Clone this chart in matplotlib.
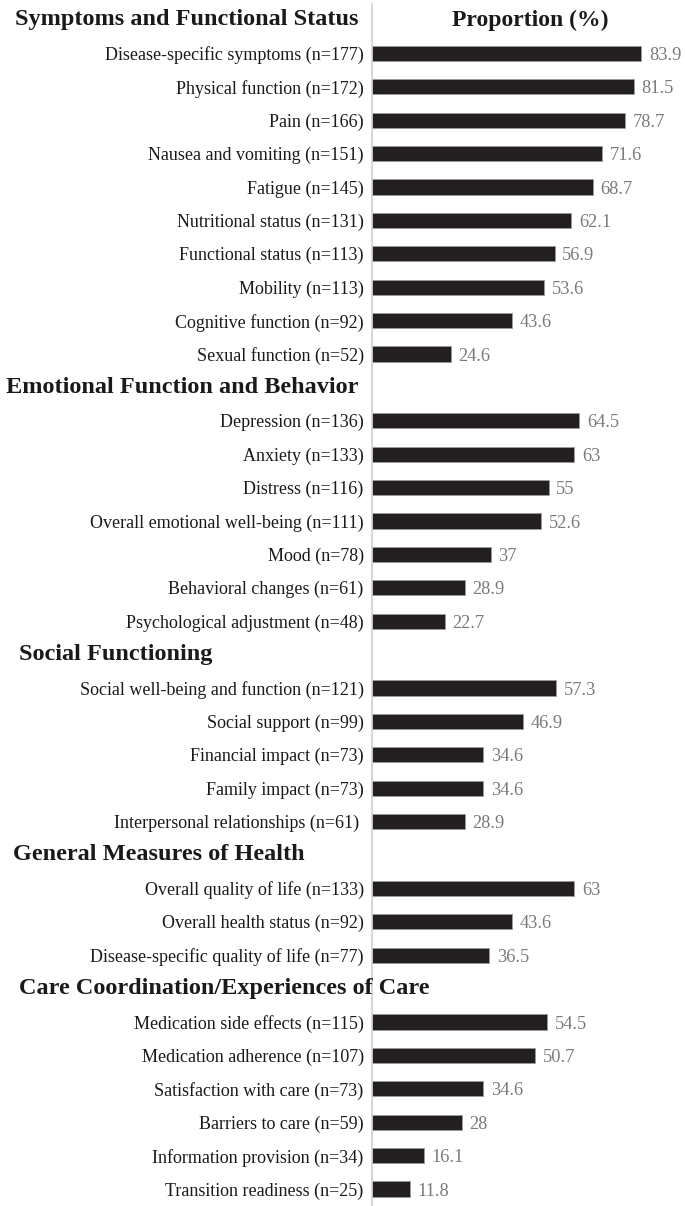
import numpy as np
import matplotlib.pyplot as plt
from matplotlib.transforms import blended_transform_factory

plt.rcParams['font.family'] = ['Liberation Serif', 'DejaVu Serif']

# domains and their items
domains = ["Symptoms and Functional Status",
           "Emotional Function and Behavior",
           "Social Functioning",
           "General Measures of Health",
           "Care Coordination/Experiences of Care"]

symptoms_labels = ["Disease-specific symptoms (n=177)", "Physical function (n=172)", "Pain (n=166)",
                   "Nausea and vomiting (n=151)", "Fatigue (n=145)", "Nutritional status (n=131)",
                   "Functional status (n=113)", "Mobility (n=113)", "Cognitive function (n=92)",
                   "Sexual function (n=52)"]
symptoms_vals = [83.9, 81.5, 78.7, 71.6, 68.7, 62.1, 56.9, 53.6, 43.6, 24.6]

emotional_labels = ["Depression (n=136)", "Anxiety (n=133)", "Distress (n=116)",
                    "Overall emotional well-being (n=111)", "Mood (n=78)",
                    "Behavioral changes (n=61)", "Psychological adjustment (n=48)"]
emotional_vals = [64.5, 63, 55, 52.6, 37, 28.9, 22.7]

social_labels = ["Social well-being and function (n=121)", "Social support (n=99)",
                 "Financial impact (n=73)", "Family impact (n=73)",
                 "Interpersonal relationships (n=61) "]
social_vals = [57.3, 46.9, 34.6, 34.6, 28.9]

general_labels = ["Overall quality of life (n=133)", "Overall health status (n=92)",
                  "Disease-specific quality of life (n=77)"]
general_vals = [63, 43.6, 36.5]

care_labels = ["Medication side effects (n=115)", "Medication adherence (n=107)",
               "Satisfaction with care (n=73)", "Barriers to care (n=59)",
               "Information provision (n=34)", "Transition readiness (n=25)"]
care_vals = [54.5, 50.7, 34.6, 28, 16.1, 11.8]

groups = [(symptoms_labels, symptoms_vals), (emotional_labels, emotional_vals),
          (social_labels, social_vals), (general_labels, general_vals),
          (care_labels, care_vals)]

W, H = 685, 1206
fig = plt.figure(figsize=(W / 100, H / 100), dpi=100)
ax = fig.add_axes([372 / W, 0, 1 - 372 / W, 1 - 4 / H])

row = 0
ypos, labels, vals, header_rows = [], [], [], []
for labs, vs in groups:
    header_rows.append(row)
    row += 1
    for l, v in zip(labs, vs):
        ypos.append(row)
        labels.append(l)
        vals.append(v)
        row += 1

ax.barh(ypos, vals, height=0.45, color='#231f20', edgecolor='#9a9a9a', linewidth=0.6)
for y, v in zip(ypos, vals):
    ax.text(v + 2.4, y + 0.06, f"{v:g}", va='center', ha='left', fontsize=13.2, color='#7a7a7a')

ax.set_yticks(ypos)
ax.set_yticklabels(labels, fontsize=13, color='#1a1a1a')
ax.tick_params(axis='y', length=0, pad=6)
ax.set_xticks([])
ax.set_xlim(0, 97.5)
top_px = 4
ax.set_ylim(35 + (H - 1189) / 33.4, -(20 - top_px) / 33.4)

for s in ['top', 'right', 'bottom']:
    ax.spines[s].set_visible(False)
ax.spines['left'].set_color('#d0d0d0')
ax.spines['left'].set_linewidth(1.2)

# domain headers
hx = [(358, 'right'), (358, 'right'), (19, 'left'), (13, 'left'), (19, 'left')]
tr = blended_transform_factory(fig.transFigure, ax.transData)
for name, r, (px, ha) in zip(domains, header_rows, hx):
    ax.text(px / W, r, name, transform=tr,
            ha=ha, va='center', fontsize=17.5, fontweight='bold', color='#1a1a1a')

ax.text(0.505, 0, "Proportion (%)", transform=ax.get_yaxis_transform(), ha='center', va='center',
        fontsize=17, fontweight='bold', color='#1a1a1a')

fig.savefig("out.png", dpi=100)
